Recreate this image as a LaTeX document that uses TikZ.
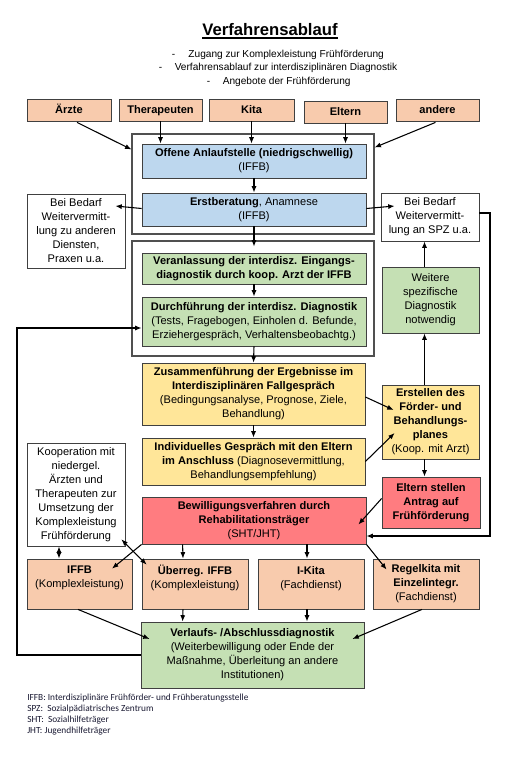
\documentclass[tikz,border=0pt]{standalone}
\usepackage{fontspec}
\setmainfont{Liberation Sans}
\newfontfamily\calib{Carlito}
\usetikzlibrary{arrows.meta,calc}
\definecolor{salmon}{HTML}{F8CBAD}
\definecolor{lblue}{HTML}{BDD7EE}
\definecolor{lgreen}{HTML}{C5E0B4}
\definecolor{lyellow}{HTML}{FFE699}
\definecolor{lred}{HTML}{FF7C80}
\definecolor{bordc}{HTML}{404040}
\definecolor{outc}{HTML}{505050}
\definecolor{footc}{HTML}{1A1A33}
\newcommand\bx[7]{\node[#6, minimum width={(#4-#2)*0.75pt}, minimum height={(#5-#3)*0.75pt}] (#1) at ({(#2+#4)/2},{(#3+#5)/2}) {#7};}
\tikzset{
  box/.style={draw=bordc, line width=0.6pt, align=center, inner sep=0pt, font=\fontsize{8.3}{10.5}\selectfont},
  wbox/.style={box, fill=white},
  sbox/.style={box, fill=salmon},
  tbox/.style={sbox, text height=6.2pt, text depth=1.6pt},
  bbox/.style={box, fill=lblue},
  gbox/.style={box, fill=lgreen},
  ybox/.style={box, fill=lyellow},
  rbox/.style={box, fill=lred},
  obox/.style={draw=outc, line width=0.8pt, inner sep=0pt},
  arr/.style={line width=0.8pt, -{Latex[length=4.8pt,width=3.8pt]}},
  darr/.style={line width=0.8pt, {Latex[length=4.8pt,width=3.8pt]}-{Latex[length=4.8pt,width=3.8pt]}},
  sub/.style={anchor=west, inner sep=0pt, font=\fontsize{7.6}{9}\selectfont},
  foot/.style={anchor=west, inner sep=0pt, text=footc, font=\calib\fontsize{7}{8}\selectfont},
}
\begin{document}
\begin{tikzpicture}[x=0.75pt, y=-0.75pt]
\fill[white] (0,0) rectangle (512,768);
\useasboundingbox (0,0) rectangle (512,768);

% title
\node[anchor=base, inner sep=0pt, font=\bfseries\fontsize{12.5}{14}\selectfont] (title) at (270,35) {Verfahrensablauf};
\draw[line width=1.2pt] ($(title.base west)+(0,2.8)$) -- ($(title.base east)+(0,2.8)$);
\node[sub] (s1) at (171.5,55) {\makebox[12.5pt][l]{-}Zugang zur Komplexleistung Frühförderung};
\node[sub] (s2) at (158.5,68) {\makebox[12pt][l]{-}Verfahrensablauf zur interdisziplinären Diagnostik};
\node[sub] (s3) at (206.5,82) {\makebox[12pt][l]{-}Angebote der Frühförderung};

% top row
\bx{aerzte}{27}{99}{111}{121}{tbox}{\textbf{Ärzte}}
\bx{ther}{119}{99}{202}{121}{tbox}{\textbf{Therapeuten}}
\bx{kita}{209}{99}{294}{121}{tbox}{\textbf{Kita}}
\bx{eltern}{304}{101}{387}{123}{tbox}{\textbf{Eltern}}
\bx{andere}{396}{99}{479}{121}{tbox}{\textbf{andere}}

% containers
\bx{outer1}{132}{134}{374}{234}{obox}{}
\bx{outer2}{132}{241}{374}{356}{obox}{}

\bx{offene}{142}{144}{366}{178}{bbox}{\textbf{Offene Anlaufstelle (niedrigschwellig)}\\(IFFB)}
\bx{erst}{142}{193}{366}{226}{bbox}{\textbf{Erstberatung}, Anamnese\\(IFFB)}
\bx{left1}{27}{194}{125}{268}{wbox}{Bei Bedarf\\Weitervermitt-\\lung zu anderen\\Diensten,\\Praxen u.a.}
\bx{right1}{381}{193}{479}{241}{wbox}{Bei Bedarf\\Weitervermitt-\\lung an SPZ u.a.}

\bx{veran}{142}{253}{366}{284}{gbox}{\textbf{Veranlassung der interdisz. Eingangs-}\\\textbf{diagnostik durch koop. Arzt der IFFB}}
\bx{durch}{142}{297}{366}{346}{gbox}{\textbf{Durchführung der interdisz. Diagnostik}\\(Tests, Fragebogen, Einholen d. Befunde,\\Erziehergespräch, Verhaltensbeobachtg.)}
\bx{weitere}{382}{267}{479}{333}{gbox}{Weitere\\spezifische\\Diagnostik\\notwendig}

\bx{zus}{142}{363}{365}{425}{ybox}{\textbf{Zusammenführung der Ergebnisse im}\\\textbf{Interdisziplinären Fallgespräch}\\(Bedingungsanalyse, Prognose, Ziele,\\Behandlung)}
\bx{indiv}{142}{438}{365}{485}{ybox}{\textbf{Individuelles Gespräch mit den Eltern}\\\textbf{im Anschluss} (Diagnosevermittlung,\\Behandlungsempfehlung)}
\bx{erstellen}{382}{385}{479}{459}{ybox}{\textbf{Erstellen des}\\\textbf{Förder- und}\\\textbf{Behandlungs-}\\\textbf{planes}\\(Koop. mit Arzt)}
\bx{antrag}{382}{477}{480}{528}{rbox}{\textbf{Eltern stellen}\\\textbf{Antrag auf}\\\textbf{Frühförderung}}

\bx{koop}{27}{443}{125}{546}{wbox}{Kooperation mit\\niedergel.\\Ärzten und\\Therapeuten zur\\Umsetzung der\\Komplexleistung\\Frühförderung}
\bx{bewill}{142}{497}{366}{544}{rbox}{\textbf{Bewilligungsverfahren durch}\\\textbf{Rehabilitationsträger}\\(SHT/JHT)}

\bx{iffb}{27}{559}{132}{609}{sbox}{\textbf{IFFB}\\(Komplexleistung)\\~}
\bx{ueber}{142}{559}{248}{609}{sbox}{\textbf{Überreg. IFFB}\\(Komplexleistung)\\~}
\bx{ikita}{258}{559}{364}{609}{sbox}{\textbf{I-Kita}\\(Fachdienst)\\~}
\bx{regel}{373}{559}{479}{609}{sbox}{\textbf{Regelkita mit}\\\textbf{Einzelintegr.}\\(Fachdienst)}

\bx{verl}{141}{622}{364}{688}{gbox}{\textbf{Verlaufs- /Abschlussdiagnostik}\\(Weiterbewilligung oder Ende der\\Maßnahme, Überleitung an andere\\Institutionen)}

% connectors top
\draw[arr] ($(aerzte.south)+(8,1)$) -- ($(outer1.north west)+(0,16)$);
\draw[arr] (ther.south) -- (ther.south |- offene.north);
\draw[arr] (kita.south) -- (kita.south |- offene.north);
\draw[arr] (eltern.south) -- (eltern.south |- offene.north);
\draw[arr] ($(andere.south)+(-2,1)$) -- ($(outer1.north east)+(0,14)$);

\draw[arr] (offene.south) -- (erst.north);
\draw[arr] ($(erst.west)+(0,-1)$) -- ($(left1.east)+(-10,-25)$);
\draw[arr] ($(erst.east)+(0,-1)$) -- ($(right1.west)+(14,-11)$);
\draw[arr] (erst.south) -- ($(veran.north)+(0,-6)$);
\draw[arr] (veran.south) -- (durch.north);
\draw[arr] (durch.south) -- (zus.north);
\draw[arr] (zus.south) -- (indiv.north);
\draw[arr] ($(zus.east)+(0,3)$) -- ($(erstellen.west)+(12,-12)$);
\draw[arr] (indiv.east) -- ($(erstellen.west)+(13,11)$);

\coordinate (ex) at ($(erstellen.north)+(-6,0)$);
\draw[arr] (ex) -- (ex |- weitere.south);
\draw[arr] (ex |- weitere.north) -- (ex |- right1.south);
\draw[arr] (ex |- erstellen.south) -- (ex |- antrag.north);
\draw[arr] ($(antrag.west)+(0,-4)$) -- ($(bewill.east)+(-8,4)$);

\coordinate (rx) at (490,400);
\draw[arr] ($(right1.east)+(0,-4)$) -| (rx) |- ($(bewill.east)+(0,15.5)$);

% bottom connectors
\draw[arr] (bewill.south west) -- ($(iffb.north)+(32.5,10)$);
\draw[darr] ($(koop.south east)+(-4,-7)$) -- ($(ueber.north west)+(5,6)$);
\draw[darr] ($(koop.south)+(-17,0)$) -- ($(iffb.north)+(-20.5,0)$);
\draw[arr] ($(bewill.south west)+(41,0)$) -- ($(ueber.north)+(-12,0)$);
\draw[arr] ($(ikita.north |- bewill.south)+(-4,0)$) -- ($(ikita.north)+(-4,0)$);
\draw[arr] (bewill.south east) -- ($(regel.north west)+(14,11)$);

\draw[arr] ($(iffb.south)+(-1.5,0)$) -- ($(verl.west)+(9,-16)$);
\draw[arr] ($(ueber.south)+(-12,0)$) -- ($(verl.north west)+(42,0)$);
\draw[arr] ($(ikita.south)+(-4,0)$) -- ($(ikita.south |- verl.north)+(-4,0)$);
\draw[arr] ($(regel.south)+(-4,0)$) -- ($(verl.east)+(-12,-16)$);

\coordinate (fx) at (17,500);
\draw[arr] (verl.west) -| (fx) |- ($(durch.west)+(0,6.5)$);

% footnotes
\node[foot] (f1) at (27,698) {IFFB: Interdisziplinäre Frühförder- und Frühberatungsstelle};
\node[foot] (f2) at (27,709) {SPZ:\ \ Sozialpädiatrisches Zentrum};
\node[foot] (f3) at (27,720) {SHT:\ \ Sozialhilfeträger};
\node[foot] (f4) at (27,731) {JHT: Jugendhilfeträger};
\end{tikzpicture}
\end{document}
